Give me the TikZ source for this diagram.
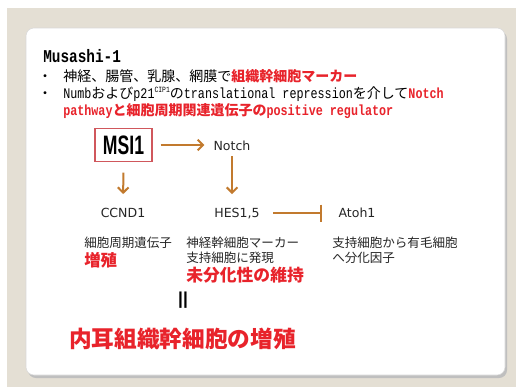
\documentclass[tikz,border=0pt]{standalone}
\usepackage{fontspec}
\usepackage{graphicx}
\setmainfont{DejaVu Sans}
\newfontfamily\jpfont{Noto Sans CJK JP}
\newfontfamily\monofont{Liberation Mono}
\newfontfamily\arialfont{Liberation Sans}
\usetikzlibrary{arrows.meta}
\definecolor{bgbeige}{HTML}{E4DFD4}
\definecolor{kred}{HTML}{E8232B}
\definecolor{arrcol}{HTML}{C27A2E}
\definecolor{boxred}{HTML}{D0575C}
\newcommand\jtxt[1]{{\jpfont\fontsize{10.5}{13}\selectfont #1}}
\newcommand\mtxt[1]{\scalebox{0.8}[1]{\monofont\fontsize{11}{13}\selectfont #1}}
\newcommand\mbtxt[1]{\scalebox{0.8}[1]{\monofont\bfseries\fontsize{11}{13}\selectfont #1}}
\begin{document}
\begin{tikzpicture}[x=0.75pt,y=-0.75pt,
  arrowline/.style={draw=arrcol, line width=1.5pt, -{Straight Barb[length=4pt,width=8pt,line width=1.5pt]}},
  inhline/.style={draw=arrcol, line width=1.5pt, -{Bar[width=12.75pt,line width=1.5pt]}},
  gene/.style={inner sep=0pt, text height=7pt, text depth=0pt, font=\fontsize{9.4}{11}\selectfont, text=black!85},
  topline/.style={anchor=base west, inner sep=0pt},
  desc/.style={anchor=base west, inner sep=0pt, font=\jpfont\fontsize{9.4}{11}\selectfont, text=black!85},
  reddesc/.style={anchor=base west, inner sep=0pt, text=kred, font=\jpfont\bfseries\fontsize{12.6}{14}\selectfont}]
\useasboundingbox (0,0) rectangle (516,387);
\fill[white] (0,0) rectangle (516,387);
\fill[bgbeige] (7,8) rectangle (516,387);
% card
\fill[black!25, rounded corners=6pt] (28,31) rectangle (507,378);
\fill[white, draw=black!15, rounded corners=6pt] (26,28) rectangle (505,375);
% header text
\node[topline] (title) at (43,62) {\scalebox{0.8}[1]{\monofont\bfseries\fontsize{13.5}{15}\selectfont Musashi-1}};
\node[inner sep=0pt, anchor=base] (b1) at (45,81) {\jtxt{・}};
\node[topline] (l1) at (63,81) {\jtxt{神経、腸管、乳腺、網膜で}{\color{kred}\jpfont\bfseries\fontsize{10.5}{13}\selectfont 組織幹細胞マーカー}};
\node[inner sep=0pt, anchor=base] (b2) at (45,98) {\jtxt{・}};
\node[topline] (l2) at (63,98) {\mtxt{Numb}\jtxt{および}\mtxt{p21}\raisebox{4pt}{\scalebox{0.8}[1]{\monofont\fontsize{6}{6}\selectfont CIP1}}\jtxt{の}\mtxt{translational repression}\jtxt{を介して}{\color{kred}\mbtxt{Notch}}};
\node[topline, text=kred] (l3) at (63,115) {\mbtxt{pathway}{\jpfont\bfseries\fontsize{10.5}{13}\selectfont と細胞周期関連遺伝子の}\mbtxt{positive regulator}};
% diagram
\node[draw=boxred, line width=0.8pt, minimum width=42.75pt, minimum height=24.75pt, inner sep=0pt] (msi) at (123.5,145)
  {\scalebox{0.66}[1]{\arialfont\bfseries\fontsize{20}{22}\selectfont MSI1}};
\node[gene] (notch) at (232,146) {Notch};
\node[gene] (ccnd) at (123,213) {CCND1};
\node[gene] (hes) at (237,213) {HES1,5};
\node[gene] (atoh) at (357,213) {Atoh1};
\draw[arrowline, shorten <=6pt, shorten >=6.75pt] (msi.east) -- (msi.east -| notch.west);
\draw[arrowline, shorten <=8pt, shorten >=10.5pt] (msi.south) -- (ccnd.north);
\draw[arrowline, shorten <=4pt, shorten >=10.5pt] (notch.south) -- (notch.south |- hes.north);
\draw[inhline, shorten <=10pt, shorten >=12.4pt] (hes.east) -- (atoh.west);
% descriptions
\node[desc] (d1) at (84,247) {細胞周期遺伝子};
\node[reddesc, font=\jpfont\bfseries\fontsize{12.3}{14}\selectfont] (d1r) at (84,266) {増殖};
\node[desc] (d2a) at (186,247) {神経幹細胞マーカー};
\node[desc] (d2b) at (186,262) {支持細胞に発現};
\node[reddesc] (d2r) at (186,281.5) {未分化性の維持};
\node[desc] (d3a) at (332,247) {支持細胞から有毛細胞};
\node[desc] (d3b) at (332,262) {へ分化因子};
\node[inner sep=0pt, font=\arialfont\bfseries\fontsize{13}{14}\selectfont] (eq) at (183,300) {||};
\node[reddesc, font=\jpfont\bfseries\fontsize{17}{19}\selectfont] (final) at (69,347) {内耳組織幹細胞の増殖};
\end{tikzpicture}
\end{document}
